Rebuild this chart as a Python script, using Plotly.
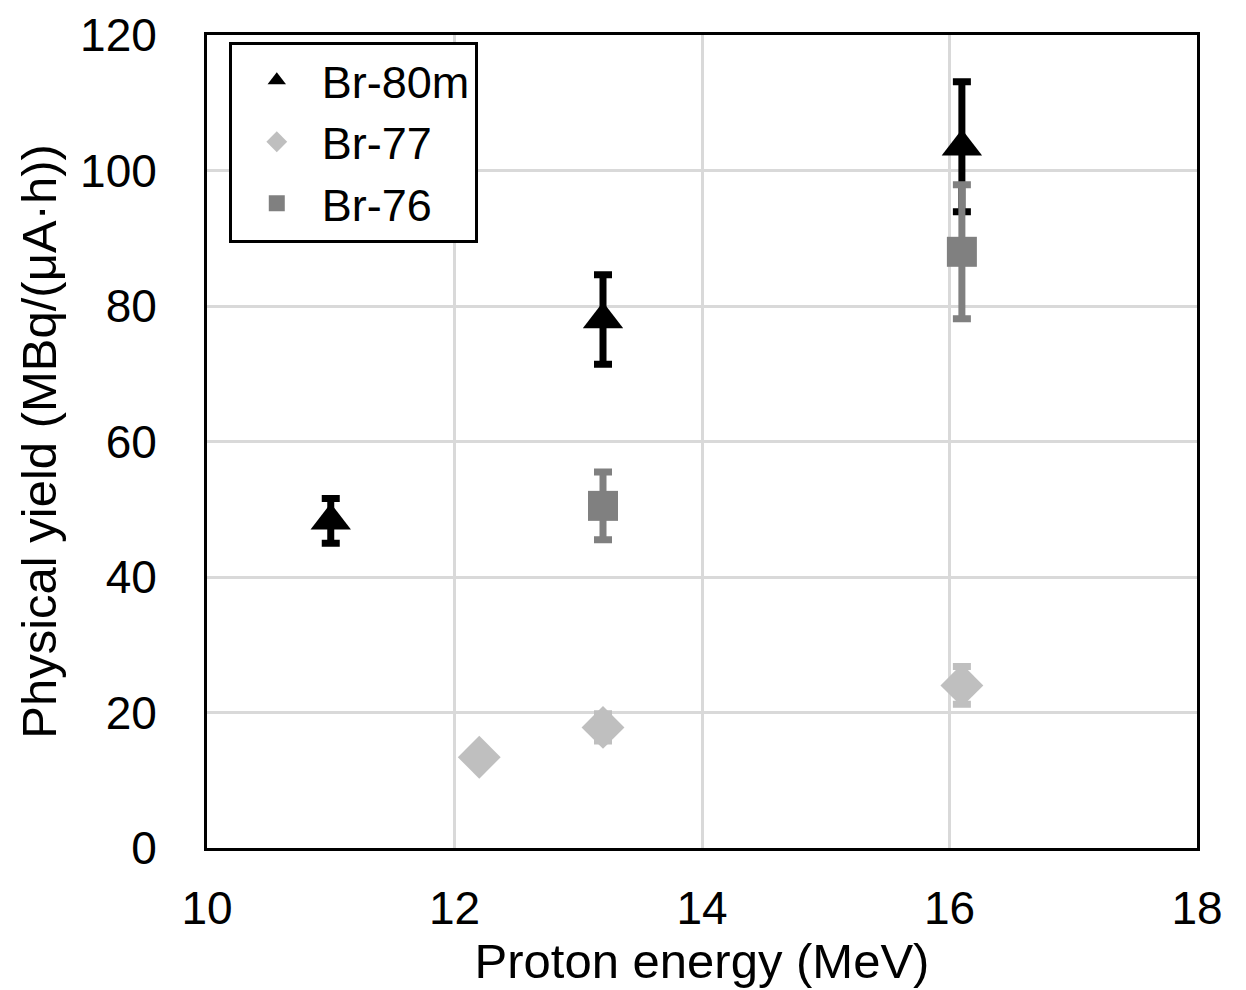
import plotly.graph_objects as go

# Data
br80m_x = [11.0, 13.2, 16.1]
br80m_y = [48.3, 78.0, 103.5]
br80m_err = [3.3, 6.6, 9.6]

br77_x = [12.2, 13.2, 16.1]
br77_y = [13.4, 17.8, 24.0]
br77_err = [1.0, 2.0, 2.8]

br76_x = [13.2, 16.1]
br76_y = [50.5, 88.0]
br76_err = [5.0, 9.9]

x_ticks = [10, 12, 14, 16, 18]
y_ticks = [0, 20, 40, 60, 80, 100, 120]

FONT = "Liberation Sans, Arial, sans-serif"

fig = go.Figure()

series = [
    ("Br-80m", br80m_x, br80m_y, br80m_err, "#000000", "triangle-up", 35),
    ("Br-77", br77_x, br77_y, br77_err, "#BFBFBF", "diamond", 33),
    ("Br-76", br76_x, br76_y, br76_err, "#808080", "square", 30),
]

for name, xs, ys, es, color, sym, size in series:
    fig.add_trace(go.Scatter(
        x=xs, y=ys, mode="markers", name=name,
        marker=dict(symbol=sym, size=size, color=color, line=dict(width=0)),
        error_y=dict(type="data", array=es, visible=True, color=color,
                     thickness=7, width=9),
        showlegend=False,
    ))
    fig.add_trace(go.Scatter(
        x=[None], y=[None], mode="markers", name=name,
        marker=dict(symbol=sym, size=size, color=color, line=dict(width=0)),
        showlegend=True,
    ))

fig.update_layout(
    width=1238, height=982,
    margin=dict(l=199, r=49, t=27, b=142, autoexpand=False),
    paper_bgcolor="white", plot_bgcolor="white",
    font=dict(family=FONT, size=46, color="black"),
    legend=dict(
        x=0.022, y=0.992, xanchor="left", yanchor="top",
        bgcolor="white", bordercolor="black", borderwidth=3,
        font=dict(size=45, family=FONT, color="black"),
        itemsizing="trace", tracegroupgap=0, itemwidth=80,
        entrywidth=300, entrywidthmode="pixels",
    ),
    xaxis=dict(
        range=[10, 18], tickvals=x_ticks, ticktext=[str(v) for v in x_ticks],
        showgrid=True, gridcolor="#D9D9D9", gridwidth=3,
        showline=True, linecolor="black", linewidth=3, mirror=True,
        zeroline=False, ticks="", ticklabelstandoff=18, automargin=False,
        title=dict(text="Proton energy (MeV)", font=dict(size=49, family=FONT), standoff=0),
        tickfont=dict(size=46, family=FONT),
    ),
    yaxis=dict(
        range=[0, 120], tickvals=y_ticks, ticktext=[str(v) for v in y_ticks],
        showgrid=True, gridcolor="#D9D9D9", gridwidth=3,
        showline=True, linecolor="black", linewidth=3, mirror=True,
        zeroline=False, ticks="", ticklabelstandoff=38, automargin=False,
        title=dict(text="Physical yield (MBq/(μA·h))", font=dict(size=49, family=FONT), standoff=8),
        tickfont=dict(size=46, family=FONT),
    ),
)

fig.write_html("out.html")
